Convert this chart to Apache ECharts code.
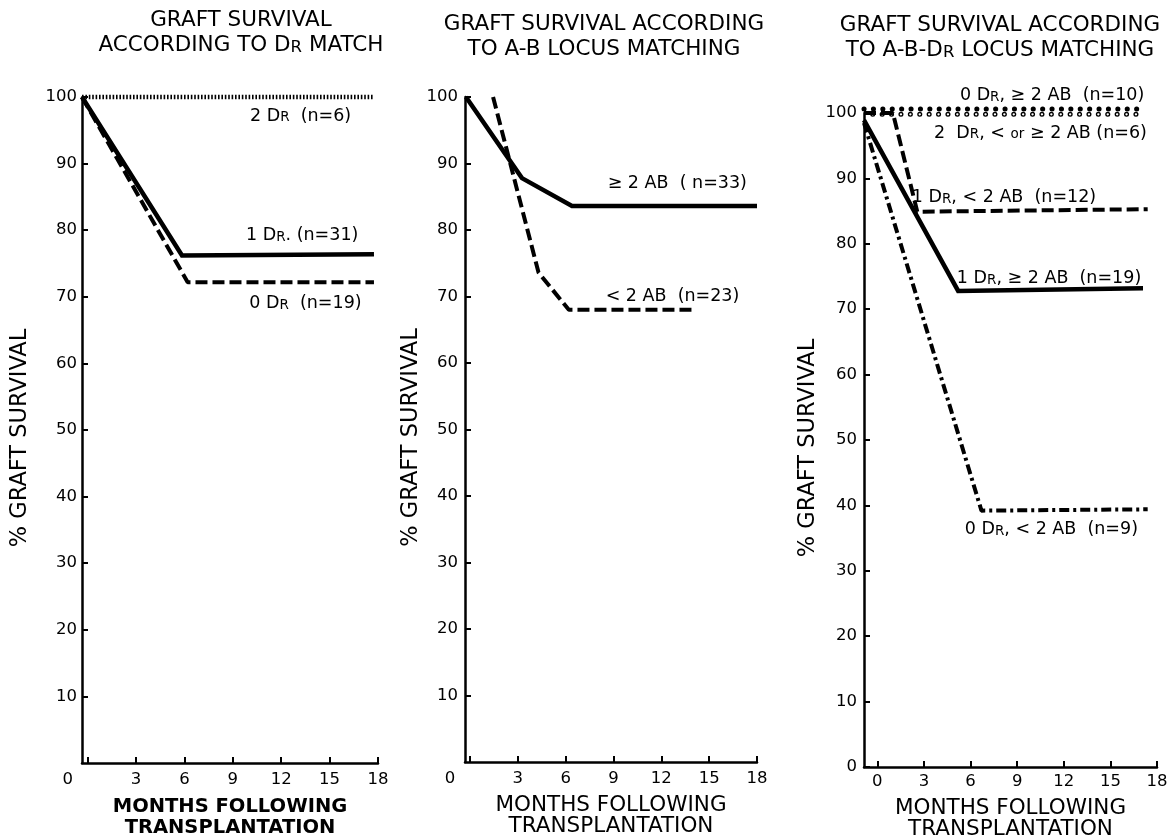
<!DOCTYPE html>
<html>
<head>
<meta charset="utf-8">
<script src="https://cdn.jsdelivr.net/npm/echarts@6/dist/echarts.min.js"></script>
<style>html,body{margin:0;padding:0;background:#fff}#c{width:1167px;height:838px}</style>
</head>
<body>
<div id="c"></div>
<script>
// ---- data (months, % graft survival) ----
const xTicks = [0, 3, 6, 9, 12, 15, 18];
const yTickStep = 10;

// Panel 1: according to DR match
const p1TwoDR  = [[-0.35, 100], [17.7, 100]];
const p1OneDR  = [[-0.35, 100], [5.85, 76.2], [17.75, 76.4]];
const p1ZeroDR = [[-0.35, 100], [6.2, 72.2], [17.75, 72.2]];

// Panel 2: according to A-B locus matching
const p2Ge2AB = [[-0.25, 100], [3.26, 87.8], [6.4, 83.6], [18, 83.6]];
const p2Lt2AB = [[1.45, 100], [4.3, 73.6], [6.2, 68], [14.1, 68]];

// Panel 3: according to A-B-DR locus matching
const p3ZeroDRGe2AB = [[-0.86, 100.6], [17.2, 100.6]];
const p3TwoDR       = [[-0.3, 99.8], [17.2, 99.8]];
const p3OneDRLt2AB  = [[-0.86, 100], [1.0, 100], [2.57, 84.9], [17.4, 85.3]];
const p3OneDRGe2AB  = [[-0.86, 98.9], [5.2, 72.8], [17.1, 73.2]];
const p3ZeroDRLt2AB = [[-0.86, 98.5], [6.7, 39.2], [17.4, 39.4]];

// curve labels: [grid, month, value, rich text]
const curveLabels = [
  [0, 13.2, 97.3, '{t|2 D}{s|R}{t|  (n=6)}'],
  [0, 13.3, 79.3, '{t|1 D}{s|R}{t|. (n=31)}'],
  [0, 13.5, 69.2, '{t|0 D}{s|R}{t|  (n=19)}'],
  [1, 13.0, 87.1, '{t|≥ 2 AB  ( n=33)}'],
  [1, 12.7, 70.2, '{t|< 2 AB  (n=23)}'],
  [2, 11.25, 102.8, '{t|0 D}{s|R}{t|, ≥ 2 AB  (n=10)}'],
  [2, 10.5, 97.1, '{t|2  D}{s|R}{t|, < }{s|or}{t| ≥ 2 AB (n=6)}'],
  [2, 8.15, 87.2, '{t|1 D}{s|R}{t|, < 2 AB  (n=12)}'],
  [2, 11.05, 74.9, '{t|1 D}{s|R}{t|, ≥ 2 AB  (n=19)}'],
  [2, 11.2, 36.5, '{t|0 D}{s|R}{t|, < 2 AB  (n=9)}']
];

const panelTitles = [
  '{t|GRAFT SURVIVAL}\n{t|ACCORDING TO D}{r|R}{t| MATCH}',
  '{t|GRAFT SURVIVAL ACCORDING}\n{t|TO A-B LOCUS MATCHING}',
  '{t|GRAFT SURVIVAL ACCORDING}\n{t|TO A-B-D}{r|R}{t| LOCUS MATCHING}'
];
const xName = 'MONTHS FOLLOWING\nTRANSPLANTATION';
const yName = '% GRAFT SURVIVAL';

// ---- layout / style ----
const FF = 'DejaVu Sans';
const grids = [
  {left: 82,  top: 97,  width: 296, height: 666, outerBoundsMode: 'none', containLabel: false},
  {left: 465, top: 97,  width: 292, height: 665, outerBoundsMode: 'none', containLabel: false},
  {left: 864, top: 113, width: 293, height: 654, outerBoundsMode: 'none', containLabel: false}
];
const xMins = [-0.35, -0.31, -0.86];
const titlePos = [[241, 31], [604, 35], [1000, 36]];
const yNameGap = [50, 42, 44];
const xNameGap = [33, 33, 31];

function xAxisOf(i) {
  return {
    type: 'value', gridIndex: i, min: xMins[i], max: 18,
    axisLine: {show: true, onZero: false, lineStyle: {color: '#000', width: 2.5}},
    axisTick: {show: true, inside: true, length: 6, customValues: xTicks, lineStyle: {color: '#000', width: 2}},
    axisLabel: {
      customValues: xTicks, color: '#000', fontSize: 16.5, fontFamily: FF, margin: i === 2 ? 6 : 8,
      formatter: v => (v === 0 && i < 2) ? '{z|0}' : String(v),
      rich: {z: {fontSize: 16.5, fontFamily: FF, color: '#000', padding: [0, 40, 0, 0]}}
    },
    splitLine: {show: false},
    name: xName, nameLocation: 'middle', nameGap: xNameGap[i],
    nameTextStyle: {color: '#000', fontFamily: FF, fontSize: i === 0 ? 19.5 : 21.5,
      fontWeight: i === 0 ? 'bold' : 'normal', lineHeight: 21}
  };
}
function yAxisOf(i) {
  return {
    type: 'value', gridIndex: i, min: 0, max: 100, interval: yTickStep,
    axisLine: {show: true, onZero: false, lineStyle: {color: '#000', width: 2.5}},
    axisTick: {show: true, inside: true, length: 6, lineStyle: {color: '#000', width: 2}},
    axisLabel: {showMinLabel: i === 2, color: '#000', fontSize: 16.5, fontFamily: FF, margin: i === 0 ? 5 : 7},
    splitLine: {show: false},
    name: yName, nameLocation: 'middle', nameGap: yNameGap[i],
    nameTextStyle: {color: '#000', fontFamily: FF, fontSize: 22.5, padding: [0, 16, 0, 0]}
  };
}
function line(g, data, ls, z) {
  return {
    type: 'line', xAxisIndex: g, yAxisIndex: g, data: data, showSymbol: false, symbol: 'none',
    clip: false, silent: true, z: z || 2,
    lineStyle: Object.assign({color: '#000'}, ls)
  };
}
const SOLID = {width: 4.5, type: 'solid', join: 'miter'};
const DASH = {width: 4, type: [12, 5]};
const DOTTED = {width: 4.5, type: [1.6, 1.8]};
const DASHDOT = {width: 4, type: [10, 4, 3, 4]};
const DOTS = {width: 5, type: [0.1, 9.3], cap: 'round'};
const RINGS_IN = {width: 2.3, type: [0.1, 9.3], cap: 'round', color: '#fff'};

const chart = echarts.init(document.getElementById('c'), null, {renderer: 'canvas'});
chart.setOption({
  animation: false,
  backgroundColor: '#fff',
  grid: grids,
  xAxis: [0, 1, 2].map(xAxisOf),
  yAxis: [0, 1, 2].map(yAxisOf),
  series: [
    line(0, p1TwoDR, DOTTED),
    line(0, p1ZeroDR, DASH),
    line(0, p1OneDR, SOLID, 3),
    line(1, p2Lt2AB, DASH),
    line(1, p2Ge2AB, SOLID, 3),
    line(2, p3ZeroDRGe2AB, DOTS),
    line(2, p3TwoDR, DOTS),
    line(2, p3TwoDR, RINGS_IN, 3),
    line(2, p3OneDRLt2AB, DASH, 4),
    line(2, p3OneDRGe2AB, SOLID, 4),
    line(2, p3ZeroDRLt2AB, DASHDOT, 4)
  ]
});

const graphics = [];
panelTitles.forEach((t, i) => {
  graphics.push({
    type: 'text', x: titlePos[i][0], y: titlePos[i][1], silent: true,
    style: {
      text: t, align: 'center', verticalAlign: 'middle', fill: '#000',
      rich: {
        t: {fontSize: 21.5, fontFamily: FF, lineHeight: 25, verticalAlign: 'bottom', fill: '#000'},
        r: {fontSize: 16.5, fontFamily: FF, lineHeight: 25, verticalAlign: 'bottom', fill: '#000'}
      }
    }
  });
});
curveLabels.forEach(([g, x, y, t]) => {
  const p = chart.convertToPixel({gridIndex: g}, [x, y]);
  graphics.push({
    type: 'text', x: p[0], y: p[1], silent: true,
    style: {
      text: t, align: 'center', verticalAlign: 'middle', fill: '#000',
      rich: {
        t: {fontSize: 17.5, fontFamily: FF, lineHeight: 20, verticalAlign: 'bottom', fill: '#000'},
        s: {fontSize: 13.5, fontFamily: FF, lineHeight: 20, verticalAlign: 'bottom', fill: '#000'}
      }
    }
  });
});
chart.setOption({graphic: graphics});
</script>
</body>
</html>
